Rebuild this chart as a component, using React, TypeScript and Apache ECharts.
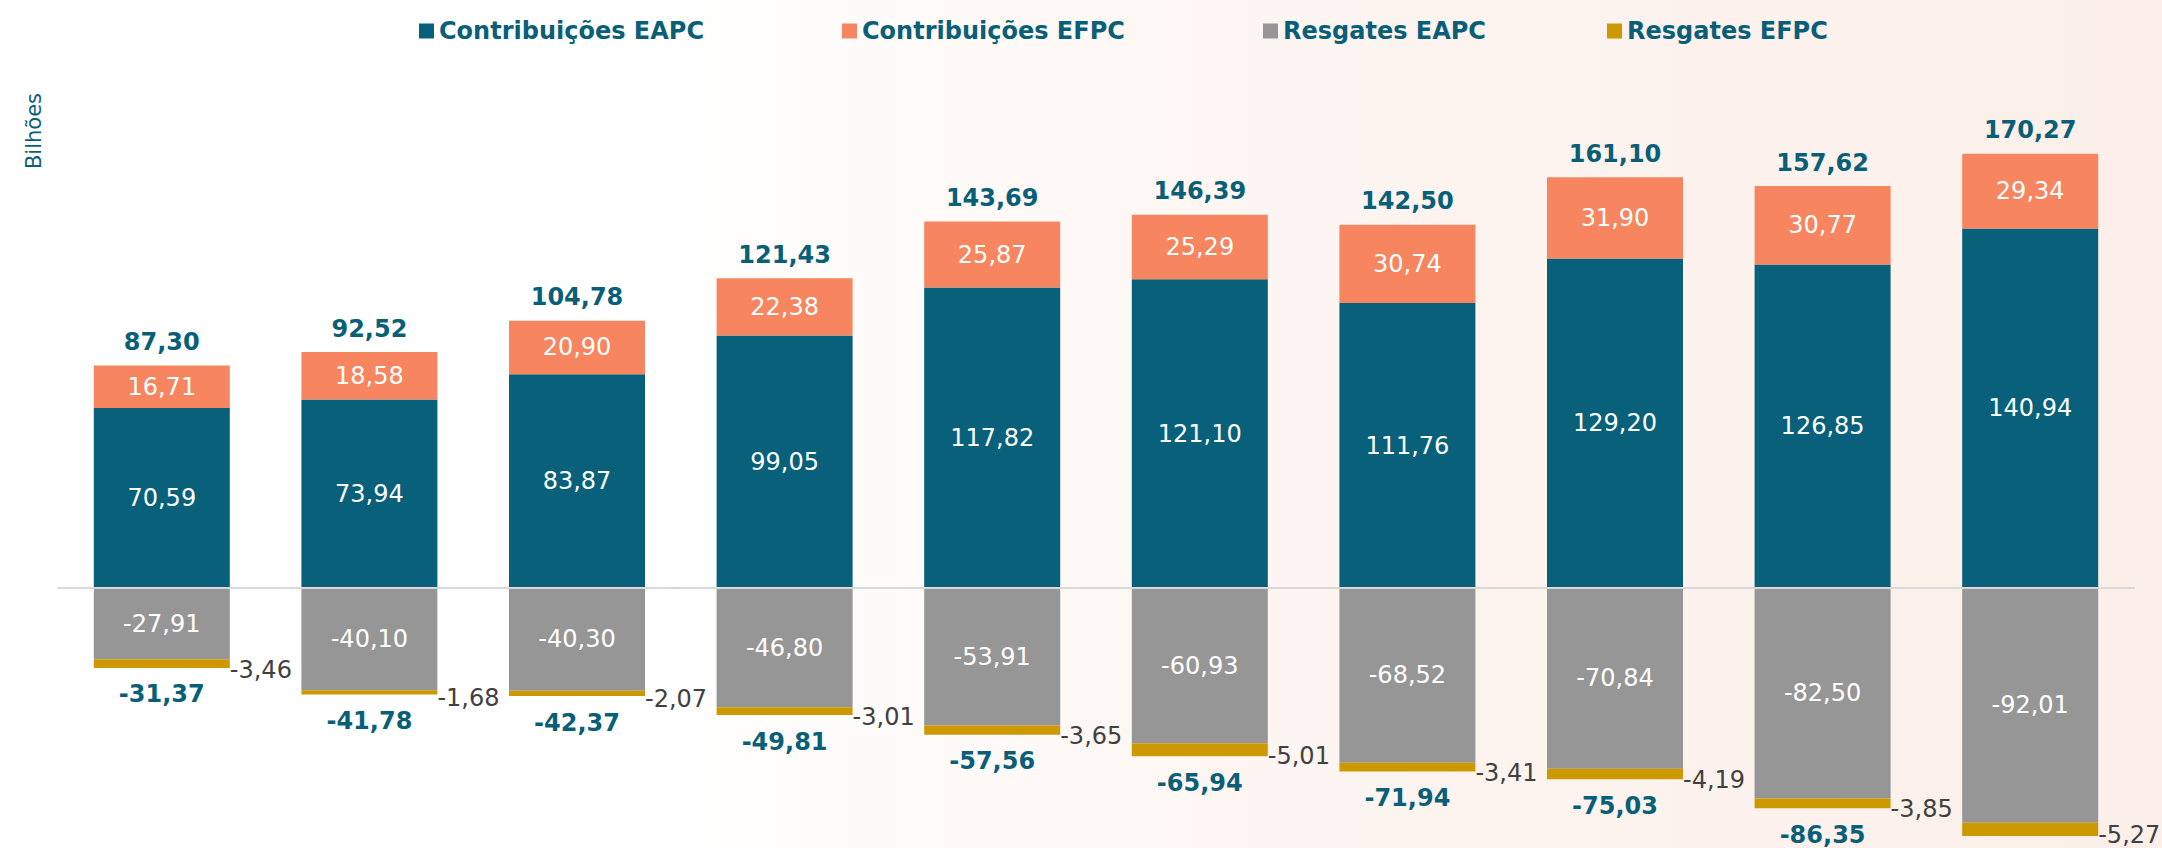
import React, { useEffect, useRef } from "react";
import * as echarts from "echarts";

const categories = ["1", "2", "3", "4", "5", "6", "7", "8", "9", "10"];
const contribEAPC = [70.59, 73.94, 83.87, 99.05, 117.82, 121.1, 111.76, 129.2, 126.85, 140.94];
const contribEFPC = [16.71, 18.58, 20.9, 22.38, 25.87, 25.29, 30.74, 31.9, 30.77, 29.34];
const totalPos = [87.3, 92.52, 104.78, 121.43, 143.69, 146.39, 142.5, 161.1, 157.62, 170.27];
const resgEAPC = [-27.91, -40.1, -40.3, -46.8, -53.91, -60.93, -68.52, -70.84, -82.5, -92.01];
const resgEFPC = [-3.46, -1.68, -2.07, -3.01, -3.65, -5.01, -3.41, -4.19, -3.85, -5.27];
const totalNeg = [-31.37, -41.78, -42.37, -49.81, -57.56, -65.94, -71.94, -75.03, -86.35, -97.28];

const FONT = "DejaVu Sans";
const TEAL = "#0a5f78";
const fmt = (v: number) => v.toFixed(2).replace(".", ",");

export default function App() {
  const ref = useRef<HTMLDivElement>(null);
  useEffect(() => {
    if (!ref.current) return;
    const chart = echarts.init(ref.current, null, { renderer: "svg" });
    const legendBase = (name: string, left: number) => ({
      data: [name],
      left,
      top: 14,
      itemWidth: 15,
      itemHeight: 15,
      icon: "rect",
      textStyle: { fontFamily: FONT, fontSize: 24, fontWeight: "bold", color: TEAL },
      selectedMode: false,
    });
    const inside = {
      show: true,
      position: "inside",
      color: "#ffffff",
      fontFamily: FONT,
      fontSize: 24,
      formatter: (p: any) => fmt(p.value),
    };
    const totalLabel = (position: string, distance: number) => ({
      show: true,
      position,
      distance,
      color: TEAL,
      opacity: 1,
      fontFamily: FONT,
      fontSize: 24,
      fontWeight: "bold",
      formatter: (p: any) => fmt(p.value),
    });
    chart.setOption({
      animation: false,
      backgroundColor: {
        type: "linear",
        x: 0,
        y: 0,
        x2: 1,
        y2: 0,
        colorStops: [
          { offset: 0, color: "#ffffff" },
          { offset: 0.3, color: "#ffffff" },
          { offset: 0.6, color: "#fdf5f1" },
          { offset: 1, color: "#fcefe9" },
        ],
      },
      legend: [
        legendBase("Contribuições EAPC", 414),
        legendBase("Contribuições EFPC", 837),
        legendBase("Resgates EAPC", 1258),
        legendBase("Resgates EFPC", 1602),
      ],
      graphic: [
        {
          type: "text",
          x: 34,
          y: 131,
          rotation: Math.PI / 2,
          style: {
            text: "Bilhões",
            fontFamily: FONT,
            fontSize: 21,
            fill: TEAL,
            align: "center",
            verticalAlign: "middle",
          },
        },
      ],
      grid: { left: 58, right: 28, top: 78, height: 765 },
      xAxis: {
        type: "category",
        data: categories,
        axisLine: { show: true, onZero: true, lineStyle: { color: "#d9d9d9", width: 2 } },
        axisTick: { show: false },
        axisLabel: { show: false },
        splitLine: { show: false },
        z: 10,
      },
      yAxis: {
        type: "value",
        min: -100,
        max: 200,
        interval: 50,
        show: false,
        splitLine: { show: false },
      },
      series: [
        {
          name: "Contribuições EAPC",
          type: "bar",
          stack: "s",
          barWidth: 136,
          data: contribEAPC,
          itemStyle: { color: "#08607a" },
          label: inside,
        },
        {
          name: "Contribuições EFPC",
          type: "bar",
          stack: "s",
          barWidth: 136,
          data: contribEFPC,
          itemStyle: { color: "#f7855f" },
          label: inside,
        },
        {
          name: "Resgates EAPC",
          type: "bar",
          stack: "s",
          barWidth: 136,
          data: resgEAPC,
          itemStyle: { color: "#969696" },
          label: inside,
        },
        {
          name: "Resgates EFPC",
          type: "bar",
          stack: "s",
          barWidth: 136,
          data: resgEFPC,
          itemStyle: { color: "#cc9900" },
          label: {
            show: true,
            position: "right",
            distance: 0,
            offset: [0, 6],
            color: "#404040",
            fontFamily: FONT,
            fontSize: 24,
            formatter: (p: any) => fmt(p.value),
          },
        },
        {
          name: "Total Contribuições",
          type: "scatter",
          data: totalPos,
          symbolSize: 1,
          itemStyle: { color: "rgba(0,0,0,0)", opacity: 1 },
          label: totalLabel("top", 11),
        },
        {
          name: "Total Resgates",
          type: "scatter",
          data: totalNeg,
          symbolSize: 1,
          itemStyle: { color: "rgba(0,0,0,0)", opacity: 1 },
          label: totalLabel("bottom", 14),
        },
      ],
    });
    return () => chart.dispose();
  }, []);
  return (
    <div
      ref={ref}
      style={{ position: "fixed", left: 0, top: 0, width: 2162, height: 848 }}
    />
  );
}
